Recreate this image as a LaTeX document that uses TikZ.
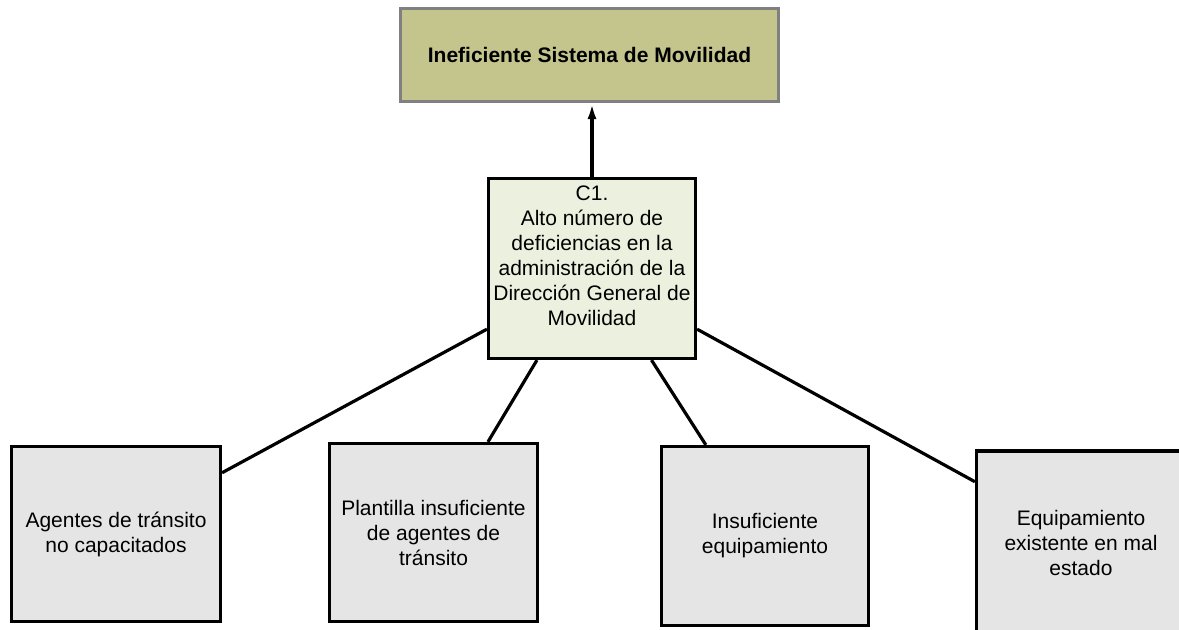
\documentclass[tikz,border=0pt]{standalone}
\usepackage{fontspec}
\setmainfont{Liberation Sans}
\usepackage{tikz}
\usetikzlibrary{arrows.meta,shapes}
\usepackage{xcolor}
\definecolor{olivefill}{RGB}{196,196,141}
\definecolor{causefill}{RGB}{235,241,222}
\definecolor{subfill}{RGB}{229,229,229}

\begin{document}
\begin{tikzpicture}[x=0.5pt, y=-0.5pt, font=\fontsize{10.5}{12.5}\selectfont,
  effect node/.style={rectangle, draw=gray, fill=olivefill, line width=1.6pt, inner sep=0pt, minimum width=189pt, minimum height=46.5pt, font=\fontsize{10.5}{12.5}\selectfont\bfseries},
  cause node/.style={rectangle, draw=black, fill=causefill, line width=1.6pt, inner sep=0pt, minimum width=103.5pt, minimum height=90pt},
  sub node/.style={rectangle, draw=black, fill=subfill, line width=1.6pt, inner sep=0pt, align=center},
  link/.style={line width=1.6pt}]
\useasboundingbox (0,0) rectangle (1179,630);
\node[effect node] (ef) at (589.5,55) {Ineficiente Sistema de Movilidad};
\node[cause node] (c1) at (592,268.5) {};
\node[align=center, inner sep=0pt] (c1text) at (592,256) {C1.\\Alto número de\\deficiencias en la\\administración de la\\Dirección General de\\Movilidad};
\node[sub node, minimum width=104.5pt, minimum height=87.5pt] (s1) at (116,534) {Agentes de tránsito\\no capacitados};
\node[sub node, minimum width=104pt, minimum height=89pt] (s2) at (433.5,532.5) {Plantilla insuficiente\\de agentes de\\tránsito};
\node[sub node, minimum width=103.5pt, minimum height=89.5pt] (s3) at (765,536) {Insuficiente\\equipamiento};
\node[sub node, minimum width=104.5pt, minimum height=92pt] (s4) at (1081,543) {Equipamiento\\existente en mal\\estado};
\draw[link, -{Latex[length=8pt,width=4.5pt]}] (c1.north) -- (c1.north |- ef.south);
\path[link]
(c1.210) edge (s1.30)
(c1.239) edge (s2.59)
(c1.303) edge (s3.123)
(c1.330) edge (s4.150);
\end{tikzpicture}
\end{document}
